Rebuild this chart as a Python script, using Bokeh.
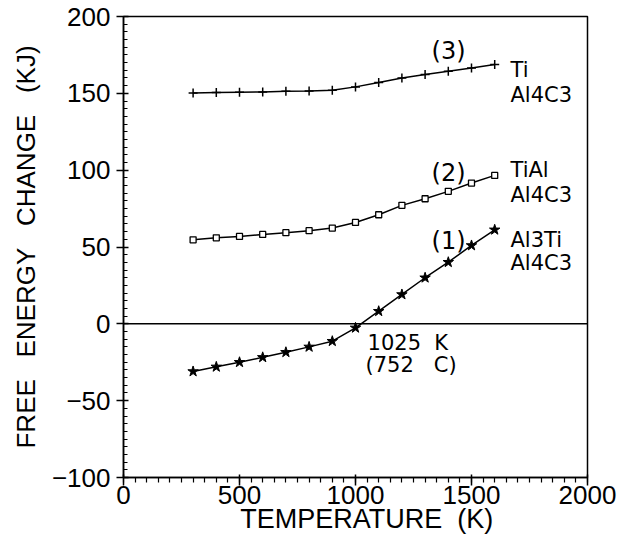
from bokeh.plotting import figure
from bokeh.models import Range1d, SingleIntervalTicker, Span
from bokeh.core.properties import value
from bokeh.embed import file_html
from bokeh.resources import INLINE

# ---- data ----
temperature = [300, 400, 500, 600, 700, 800, 900, 1000, 1100, 1200, 1300, 1400, 1500, 1600]
ti_al4c3 = [150.2, 150.5, 150.7, 150.9, 151.3, 151.5, 152.0, 154.2, 157.0, 160.0, 162.2, 164.3, 166.5, 168.7]
tial_al4c3 = [54.7, 56.0, 56.9, 58.2, 59.3, 60.6, 62.3, 66.0, 71.0, 77.1, 81.4, 86.2, 91.6, 96.6]
al3ti_al4c3 = [-31.0, -28.0, -25.0, -21.8, -18.5, -15.0, -11.3, -2.6, 8.2, 19.1, 30.0, 40.1, 51.0, 61.2]

x_label = "\u00a0\u00a0\u00a0TEMPERATURE\u00a0\u00a0(K)"
y_label = "FREE\u00a0\u00a0\u00a0ENERGY\u00a0\u00a0\u00a0CHANGE\u00a0\u00a0\u00a0(KJ)"
y_overrides = {-50: "\u221250", -100: "\u2212100"}

curve_tags = ["(3)", "(2)", "(1)"]
curve_tag_x = [1401, 1401, 1401]
curve_tag_y = [177.7, 98.2, 53.9]

species_text = ["Ti", "Al4C3", "TiAl", "Al4C3", "Al3Ti", "Al4C3"]
species_x = [1668, 1668, 1668, 1668, 1668, 1668]
species_y = [165.0, 148.7, 99.9, 83.6, 54.3, 39.3]

cross_text = ["1025\u00a0\u00a0K", "(752\u00a0\u00a0\u00a0C)"]
cross_x = [1052, 1043]
cross_y = [-12.2, -26.6]

TICK_FONT = "Liberation Sans"
ANN_FONT = "DejaVu Sans"

p = figure(width=622, height=536, output_backend="svg", toolbar_location=None,
           x_range=Range1d(0, 2000), y_range=Range1d(-100, 200),
           min_border_left=123, min_border_right=35, min_border_top=16, min_border_bottom=58)
p.xgrid.visible = False
p.ygrid.visible = False
p.background_fill_color = "white"
p.border_fill_color = "white"
p.outline_line_color = "black"
p.outline_line_width = 1.5
p.outline_line_alpha = 1.0

# x axis
p.xaxis.ticker = SingleIntervalTicker(interval=500, num_minor_ticks=10)
p.xaxis.axis_line_width = 1.5
p.xaxis.axis_line_color = "black"
p.xaxis.major_tick_line_color = "black"
p.xaxis.minor_tick_line_color = "black"
p.xaxis.major_tick_line_width = 1.5
p.xaxis.minor_tick_line_width = 1.2
p.xaxis.major_tick_in = 3
p.xaxis.major_tick_out = 8
p.xaxis.minor_tick_in = 0
p.xaxis.minor_tick_out = 5
p.xaxis.major_label_standoff = 0
p.xaxis.major_label_text_font = TICK_FONT
p.xaxis.major_label_text_font_size = "26px"
p.xaxis.major_label_text_color = "black"
p.xaxis.axis_label = x_label
p.xaxis.axis_label_text_font = TICK_FONT
p.xaxis.axis_label_text_font_size = "27px"
p.xaxis.axis_label_text_font_style = "normal"
p.xaxis.axis_label_text_color = "black"
p.xaxis.axis_label_standoff = -3

# y axis
p.yaxis.ticker = SingleIntervalTicker(interval=50, num_minor_ticks=10)
p.yaxis.axis_line_width = 1.5
p.yaxis.axis_line_color = "black"
p.yaxis.major_tick_line_color = "black"
p.yaxis.minor_tick_line_color = "black"
p.yaxis.major_tick_line_width = 1.5
p.yaxis.minor_tick_line_width = 1.2
p.yaxis.major_tick_in = 5
p.yaxis.major_tick_out = 7
p.yaxis.minor_tick_in = 4
p.yaxis.minor_tick_out = 0
p.yaxis.major_label_standoff = 6
p.yaxis.major_label_text_font = TICK_FONT
p.yaxis.major_label_text_font_size = "26px"
p.yaxis.major_label_text_color = "black"
p.yaxis.major_label_overrides = y_overrides
p.yaxis.axis_label = y_label
p.yaxis.axis_label_text_font = TICK_FONT
p.yaxis.axis_label_text_font_size = "26px"
p.yaxis.axis_label_text_font_style = "normal"
p.yaxis.axis_label_text_color = "black"
p.yaxis.axis_label_standoff = 8

# zero line
p.add_layout(Span(location=0, dimension="width", line_color="black", line_width=1.5))

# curves
p.line(temperature, ti_al4c3, line_color="black", line_width=1.5)
p.scatter(temperature, ti_al4c3, marker="cross", size=9, line_color="black", line_width=1.5)

p.line(temperature, tial_al4c3, line_color="black", line_width=1.5)
p.scatter(temperature, tial_al4c3, marker="square", size=6, line_color="black",
          fill_color="white", line_width=1.3)

p.line(temperature, al3ti_al4c3, line_color="black", line_width=1.5)
p.scatter(temperature, al3ti_al4c3, marker="star", size=11, line_color="black",
          fill_color="black", line_width=1)

# annotations
p.text(curve_tag_x, curve_tag_y, text=curve_tags, text_font=value(ANN_FONT),
       text_font_size="24px", text_align="center", text_baseline="alphabetic", text_color="black")
p.text(species_x, species_y, text=species_text, text_font=value(ANN_FONT),
       text_font_size="21px", text_align="left", text_baseline="alphabetic", text_color="black")
p.text(cross_x, cross_y, text=cross_text, text_font=value(ANN_FONT),
       text_font_size="21px", text_align="left", text_baseline="alphabetic", text_color="black")

open("out.html", "w").write(file_html(p, INLINE))
